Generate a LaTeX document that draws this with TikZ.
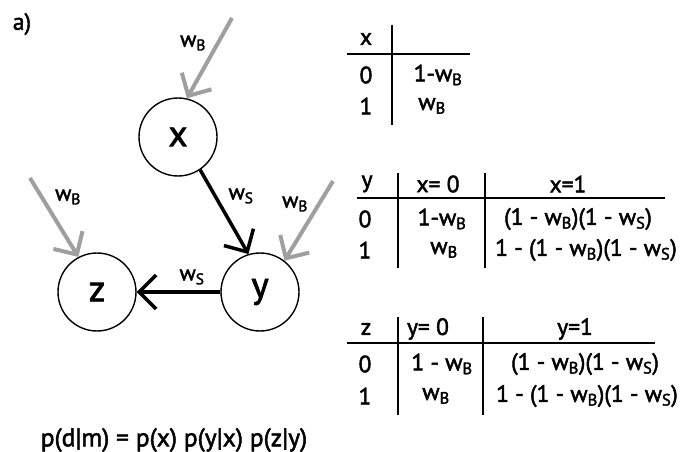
\documentclass[tikz,border=0pt]{standalone}
\usepackage{fontspec}
\setmainfont{PT Sans}[FakeBold=2]
\usetikzlibrary{arrows.meta}

\newcommand{\wBsub}{w\textsubscript{B}}
\newcommand{\wSsub}{w\textsubscript{S}}

\tikzset{
  var/.style={draw, circle, line width=1.4pt, minimum size=78pt, inner sep=0pt,
    font=\fontsize{37}{42}\selectfont},
  prior/.style={draw=gray!75, line width=4pt, -{Straight Barb[length=17pt,width=34pt]}},
  link/.style={draw=black, line width=3.5pt, -{Straight Barb[length=17pt,width=34pt]}},
  lbl/.style={inner sep=0pt, font=\fontsize{22}{26}\selectfont},
  cell/.style={inner sep=0pt, font=\fontsize{23.5}{28}\selectfont},
  rule/.style={line width=1.6pt}
}

\begin{document}
\begin{tikzpicture}[x=1pt,y=-1pt]
\useasboundingbox (0,0) rectangle (689,452);

\node[cell] (tag) at (22,24) {a)};

% --- network ---
  \node[var] (x) at (178,137) {x};
  \node[var] (z) at (97,292) {z};
  \node[var] (y) at (260,292) {y};

  % background weights
  \coordinate (gx) at (232,18);
  \coordinate (gz) at (30,178);
  \coordinate (gy) at (333,181);
  \draw[prior] (gx) -- (x.77);
  \draw[prior] (gz) -- (z.118);
  \draw[prior] (gy) -- (y.52);
  \node[lbl] (bx) at (193,43) {\wBsub};
  \node[lbl] (bz) at (68,197) {\wBsub};
  \node[lbl] (by) at (295,204) {\wBsub};

  % links
  \draw[link] (x.-56) -- (y.107);
  \draw[link] (y.west) -- (z.east);
  \node[lbl] (sxy) at (241,196) {\wSsub};
  \node[lbl] (syz) at (192,277) {\wSsub};

% --- p(x) ---
  \draw[rule] (392,25) -- (392,125);
  \draw[rule] (347,54) -- (470,54);
  \node[cell] (hx) at (366,39) {x};
  \node[cell] (x0) at (366,75) {0};
  \node[cell] (x1) at (366,106) {1};
  \node[cell] (px0) at (438,75) {1-\wBsub};
  \node[cell] (px1) at (432,106) {\wBsub};

% --- p(y|x) ---
  \draw[rule] (398,173) -- (398,268);
  \draw[rule] (485,173) -- (485,268);
  \draw[rule] (357,198) -- (665,198);
  \node[cell] (hy) at (367,184) {y};
  \node[cell] (hyx0) at (438,184) {x= 0};
  \node[cell] (hyx1) at (568,184) {x=1};
  \node[cell] (y0) at (365,219) {0};
  \node[cell] (y1) at (365,250) {1};
  \node[cell] (py00) at (442,219) {1-\wBsub};
  \node[cell] (py01) at (578,219) {(1 - \wBsub)(1 - \wSsub)};
  \node[cell] (py10) at (444,250) {\wBsub};
  \node[cell] (py11) at (586,250) {1 - (1 - \wBsub)(1 - \wSsub)};

% --- p(z|y) ---
  \draw[rule] (398,317) -- (398,415);
  \draw[rule] (483,317) -- (483,415);
  \draw[rule] (347,343) -- (655,343);
  \node[cell] (hz) at (366,329) {z};
  \node[cell] (hzy0) at (428,329) {y= 0};
  \node[cell] (hzy1) at (575,329) {y=1};
  \node[cell] (z0) at (365,364) {0};
  \node[cell] (z1) at (365,396) {1};
  \node[cell] (pz00) at (442,364) {1 - \wBsub};
  \node[cell] (pz01) at (585,364) {(1 - \wBsub)(1 - \wSsub)};
  \node[cell] (pz10) at (436,396) {\wBsub};
  \node[cell] (pz11) at (587,396) {1 - (1 - \wBsub)(1 - \wSsub)};

% --- likelihood ---
  \node[cell, font=\fontsize{25.5}{30}\selectfont] (lik) at (174,440) {p(d|m) = p(x) p(y|x) p(z|y)};
\end{tikzpicture}
\end{document}
